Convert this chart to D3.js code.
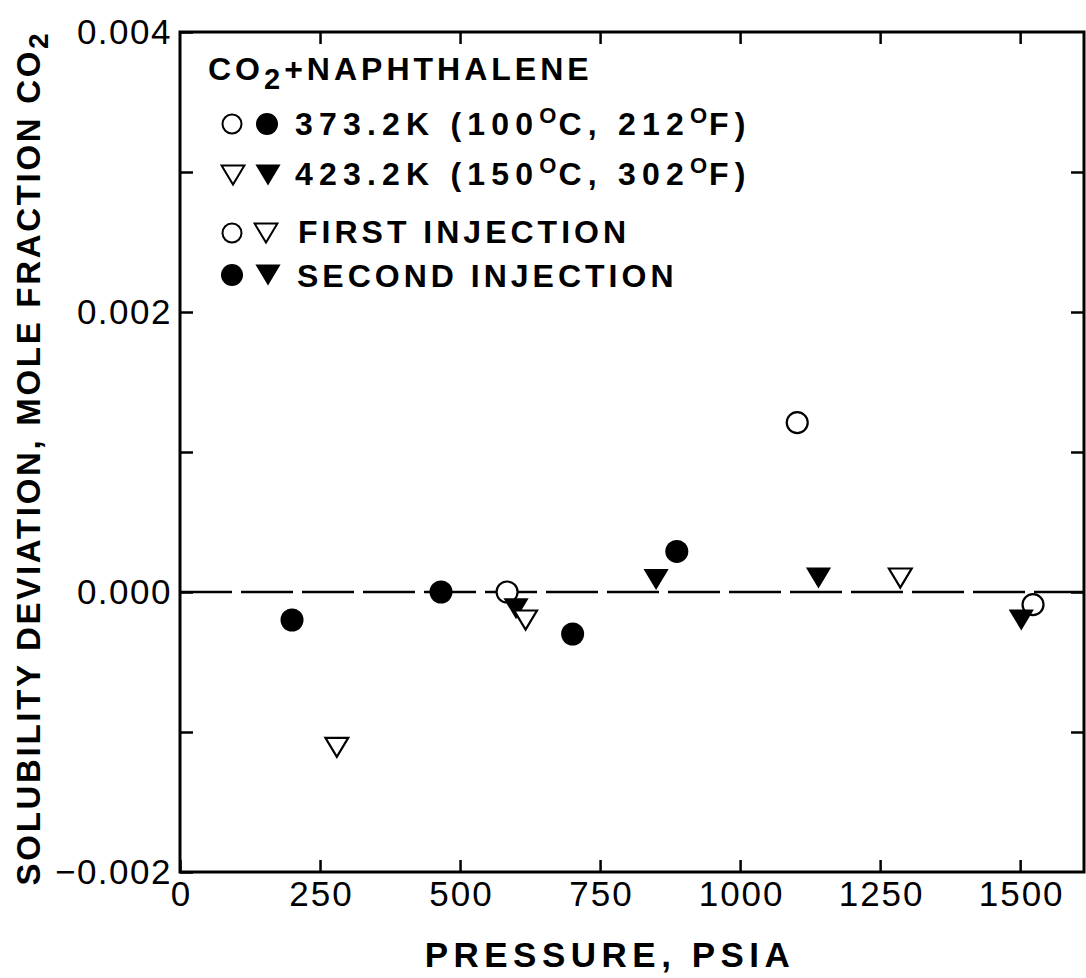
<!DOCTYPE html>
<html>
<head>
<meta charset="utf-8">
<script src="https://cdn.jsdelivr.net/npm/d3@7"></script>
<style>
  body { margin: 0; background: #fff; }
  svg { display: block; font-family: "Liberation Sans", Arial, Helvetica, sans-serif; }
</style>
</head>
<body>
<script>
// data: pressure (psia) and solubility deviation (mole fraction CO2)
var firstP373 = [584, 1102, 1523];
var firstD373 = [0.0, 0.00121, -0.00009];
var secondP373 = [200, 466, 701, 887];
var secondD373 = [-0.0002, 0.0, -0.0003, 0.00029];
var firstP423 = [280, 617, 1286];
var firstD423 = [-0.00111, -0.0002, 0.0001];
var secondP423 = [600, 850, 1140, 1502];
var secondD423 = [-0.00012, 0.00009, 0.0001, -0.0002];

var xTicks = [0, 250, 500, 750, 1000, 1250, 1500];
var yTicks = [-0.002, -0.001, 0.0, 0.001, 0.002, 0.003, 0.004];
var yLabelTicks = [-0.002, 0.0, 0.002, 0.004];

var width = 1086, height = 978;
var margin = {top: 32, right: 2, bottom: 106, left: 180};

var svg = d3.select("body").append("svg")
    .attr("width", width)
    .attr("height", height);

svg.append("rect").attr("width", width).attr("height", height).attr("fill", "#fff");

var x = d3.scaleLinear().domain([0, 1614]).range([margin.left, width - margin.right]);
var y = d3.scaleLinear().domain([-0.002, 0.004]).range([height - margin.bottom, margin.top]);

var fmtY = function(d) { return d3.format(".3f")(d).replace("-", "\u2212"); };

// frame
svg.append("rect")
    .attr("x", x(0)).attr("y", y(0.004))
    .attr("width", x(1614) - x(0)).attr("height", y(-0.002) - y(0.004))
    .attr("fill", "none").attr("stroke", "#000").attr("stroke-width", 3);

// bottom axis, ticks pointing inward
var xb = svg.append("g")
    .attr("transform", "translate(0," + y(-0.002) + ")")
    .call(d3.axisBottom(x).tickValues(xTicks).tickSizeInner(-12).tickSizeOuter(0).tickPadding(9).tickFormat(d3.format("d")));
xb.select(".domain").remove();
xb.selectAll("line").attr("stroke-width", 2.5);
xb.selectAll("text").attr("font-size", 35).attr("fill", "#000").attr("letter-spacing", 2).attr("dx", 1);

// top axis
var xt = svg.append("g")
    .attr("transform", "translate(0," + y(0.004) + ")")
    .call(d3.axisTop(x).tickValues(xTicks.slice(1)).tickSizeInner(-12).tickSizeOuter(0).tickFormat(""));
xt.select(".domain").remove();
xt.selectAll("line").attr("stroke-width", 2.5);

// left axis
var yl = svg.append("g")
    .attr("transform", "translate(" + x(0) + ",0)")
    .call(d3.axisLeft(y).tickValues(yTicks).tickSizeInner(-13).tickSizeOuter(0).tickPadding(8)
      .tickFormat(function(d) { return yLabelTicks.some(function(v) { return Math.abs(v - d) < 1e-9; }) ? fmtY(d) : ""; }));
yl.select(".domain").remove();
yl.selectAll("line").attr("stroke-width", 2.5);
yl.selectAll("text").attr("font-size", 35).attr("fill", "#000").attr("letter-spacing", 1.5);

// right axis
var yr = svg.append("g")
    .attr("transform", "translate(" + x(1614) + ",0)")
    .call(d3.axisRight(y).tickValues(yTicks.slice(1, -1)).tickSizeInner(-13).tickSizeOuter(0).tickFormat(""));
yr.select(".domain").remove();
yr.selectAll("line").attr("stroke-width", 2.5);

// zero line
svg.append("line")
    .attr("x1", x(0)).attr("x2", x(1614))
    .attr("y1", y(0)).attr("y2", y(0))
    .attr("stroke", "#000").attr("stroke-width", 2.5)
    .attr("stroke-dasharray", "52,9");

// markers
var tri = function(s) {
  var w = s * 1.2, h = s;
  return "M" + (-w / 2) + "," + (-h / 2) + "L" + (w / 2) + "," + (-h / 2) + "L0," + (h / 2) + "Z";
};

function zip(ps, ds) { return ps.map(function(p, i) { return {p: p, d: ds[i]}; }); }

svg.selectAll(".c1").data(zip(firstP373, firstD373)).enter().append("circle")
    .attr("cx", function(d) { return x(d.p); }).attr("cy", function(d) { return y(d.d); })
    .attr("r", 10.5).attr("fill", "#fff").attr("stroke", "#000").attr("stroke-width", 2.2);

svg.selectAll(".c2").data(zip(secondP373, secondD373)).enter().append("circle")
    .attr("cx", function(d) { return x(d.p); }).attr("cy", function(d) { return y(d.d); })
    .attr("r", 11.5).attr("fill", "#000");

svg.selectAll(".t2").data(zip(secondP423, secondD423)).enter().append("path")
    .attr("transform", function(d) { return "translate(" + x(d.p) + "," + y(d.d) + ")"; })
    .attr("d", tri(21)).attr("fill", "#000");

svg.selectAll(".t1").data(zip(firstP423, firstD423)).enter().append("path")
    .attr("transform", function(d) { return "translate(" + x(d.p) + "," + y(d.d) + ")"; })
    .attr("d", tri(19)).attr("fill", "#fff").attr("stroke", "#000").attr("stroke-width", 2.2).attr("stroke-linejoin", "miter");

// legend
var leg = svg.append("g").attr("font-size", 32).attr("font-weight", "bold").attr("letter-spacing", 4);

var title = leg.append("text").attr("x", 208).attr("y", 80);
title.append("tspan").text("CO");
title.append("tspan").attr("dy", 9).attr("font-size", 29).text("2");
title.append("tspan").attr("dy", -9).text("+NAPHTHALENE");

function degText(yy, main, c, f) {
  var t = leg.append("text").attr("x", 295).attr("y", yy).attr("letter-spacing", 6.2);
  t.append("tspan").text(main + " (" + c);
  t.append("tspan").attr("dy", -12).attr("font-size", 22).attr("letter-spacing", 2).text("O");
  t.append("tspan").attr("dy", 12).text("C, " + f);
  t.append("tspan").attr("dy", -12).attr("font-size", 22).attr("letter-spacing", 2).text("O");
  t.append("tspan").attr("dy", 12).text("F)");
}
degText(135, "373.2K", "100", "212");
degText(185, "423.2K", "150", "302");
leg.append("text").attr("x", 298).attr("y", 243).text("FIRST INJECTION");
leg.append("text").attr("x", 297).attr("y", 287).text("SECOND INJECTION");

leg.append("circle").attr("cx", 232).attr("cy", 124).attr("r", 9.5).attr("fill", "#fff").attr("stroke", "#000").attr("stroke-width", 2);
leg.append("circle").attr("cx", 267).attr("cy", 124).attr("r", 11).attr("fill", "#000");
leg.append("path").attr("transform", "translate(233,175)").attr("d", tri(19)).attr("fill", "#fff").attr("stroke", "#000").attr("stroke-width", 2);
leg.append("path").attr("transform", "translate(268,175)").attr("d", tri(21)).attr("fill", "#000");
leg.append("circle").attr("cx", 232).attr("cy", 233).attr("r", 9.5).attr("fill", "#fff").attr("stroke", "#000").attr("stroke-width", 2);
leg.append("path").attr("transform", "translate(266,233)").attr("d", tri(19)).attr("fill", "#fff").attr("stroke", "#000").attr("stroke-width", 2);
leg.append("circle").attr("cx", 232).attr("cy", 275).attr("r", 11).attr("fill", "#000");
leg.append("path").attr("transform", "translate(268,275)").attr("d", tri(21)).attr("fill", "#000");

// axis titles
svg.append("text")
    .attr("x", 610).attr("y", 967)
    .attr("text-anchor", "middle")
    .attr("font-size", 35).attr("font-weight", "bold").attr("letter-spacing", 5.5)
    .text("PRESSURE, PSIA");

var yt = svg.append("text")
    .attr("transform", "translate(40,458) rotate(-90)")
    .attr("text-anchor", "middle")
    .attr("font-size", 33).attr("font-weight", "bold").attr("letter-spacing", 2.7);
yt.append("tspan").text("SOLUBILITY DEVIATION, MOLE FRACTION CO");
yt.append("tspan").attr("dy", 8).attr("font-size", 28).text("2");
</script>
</body>
</html>
